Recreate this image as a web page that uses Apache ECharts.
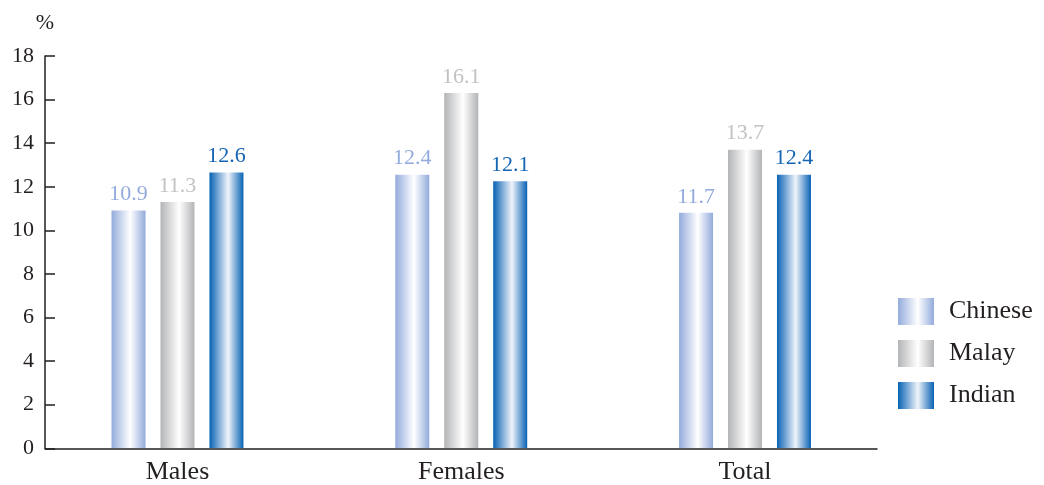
<!DOCTYPE html>
<html>
<head>
<meta charset="utf-8">
<script src="https://cdn.jsdelivr.net/npm/echarts@6/dist/echarts.min.js"></script>
<style>html,body{margin:0;padding:0;background:#fff}#c{width:1044px;height:485px}</style>
</head>
<body>
<div id="c"></div>
<script>
// Data
var categories = ['Males', 'Females', 'Total'];
var seriesNames = ['Chinese', 'Malay', 'Indian'];
// bar heights as drawn in the picture
var chineseValues = [10.9, 12.55, 10.8];
var malayValues = [11.3, 16.3, 13.7];
var indianValues = [12.65, 12.25, 12.55];
// printed labels
var chineseLabels = ['10.9', '12.4', '11.7'];
var malayLabels = ['11.3', '16.1', '13.7'];
var indianLabels = ['12.6', '12.1', '12.4'];
var yTicks = [0, 2, 4, 6, 8, 10, 12, 14, 16, 18];

var FONT = '"Liberation Serif", "DejaVu Serif", serif';
var TXT = '#231f20';

function grad(edge, mid) {
  return new echarts.graphic.LinearGradient(0, 0, 1, 0, [
    {offset: 0, color: edge},
    {offset: 0.55, color: mid},
    {offset: 1, color: edge}
  ]);
}
var styles = [
  {fill: grad('#93abdc', '#ffffff'), label: '#93abdc'},
  {fill: grad('#b3b4b6', '#ffffff'), label: '#c2c2c2'},
  {fill: grad('#0862b4', '#f0f4fb'), label: '#1565b5'}
];
var values = [chineseValues, malayValues, indianValues];
var labels = [chineseLabels, malayLabels, indianLabels];

var chart = echarts.init(document.getElementById('c'), null, {renderer: 'canvas'});
var series = seriesNames.map(function (name, i) {
  return {
    name: name,
    type: 'bar',
    xAxisIndex: 0,
    yAxisIndex: 0,
    barWidth: 34,
    barGap: '44%',
    data: values[i],
    itemStyle: {color: styles[i].fill},
    label: {
      show: true,
      position: 'top',
      distance: 5,
      fontFamily: FONT,
      fontSize: 22,
      color: styles[i].label,
      formatter: function (p) { return labels[i][p.dataIndex]; }
    }
  };
});

chart.setOption({
  animation: false,
  backgroundColor: '#ffffff',
  grid: [
    {left: 35.6, top: 56, width: 851.3, height: 392.3},
    {left: 45, top: 56, width: 832, height: 392.3}
  ],
  xAxis: [
    {
      gridIndex: 0, type: 'category', data: categories,
      axisLine: {show: false}, axisTick: {show: false},
      axisLabel: {fontFamily: FONT, fontSize: 26, color: TXT, margin: 11}
    },
    {
      gridIndex: 1, type: 'category', data: categories,
      axisLine: {show: true, lineStyle: {color: TXT, width: 1.5}},
      axisTick: {show: false}, axisLabel: {show: false}
    }
  ],
  yAxis: [
    {gridIndex: 0, type: 'value', min: 0, max: 18, interval: 2, show: false},
    {
      gridIndex: 1, type: 'value', min: yTicks[0], max: yTicks[yTicks.length - 1], interval: 2,
      name: '%', nameLocation: 'end', nameGap: 22,
      nameTextStyle: {fontFamily: FONT, fontSize: 22, color: TXT},
      axisLine: {show: true, lineStyle: {color: TXT, width: 1.5}},
      axisTick: {show: true, inside: true, length: 10, lineStyle: {color: TXT, width: 1.5}},
      axisLabel: {fontFamily: FONT, fontSize: 22, color: TXT, margin: 11},
      splitLine: {show: false}
    }
  ],
  legend: {
    orient: 'vertical',
    left: 898, top: 298,
    padding: 0,
    itemWidth: 36, itemHeight: 27, itemGap: 15,
    icon: 'rect',
    data: seriesNames,
    textStyle: {fontFamily: FONT, fontSize: 26, color: TXT, padding: [9, 0, 0, 10]}
  },
  series: series
});
</script>
</body>
</html>
